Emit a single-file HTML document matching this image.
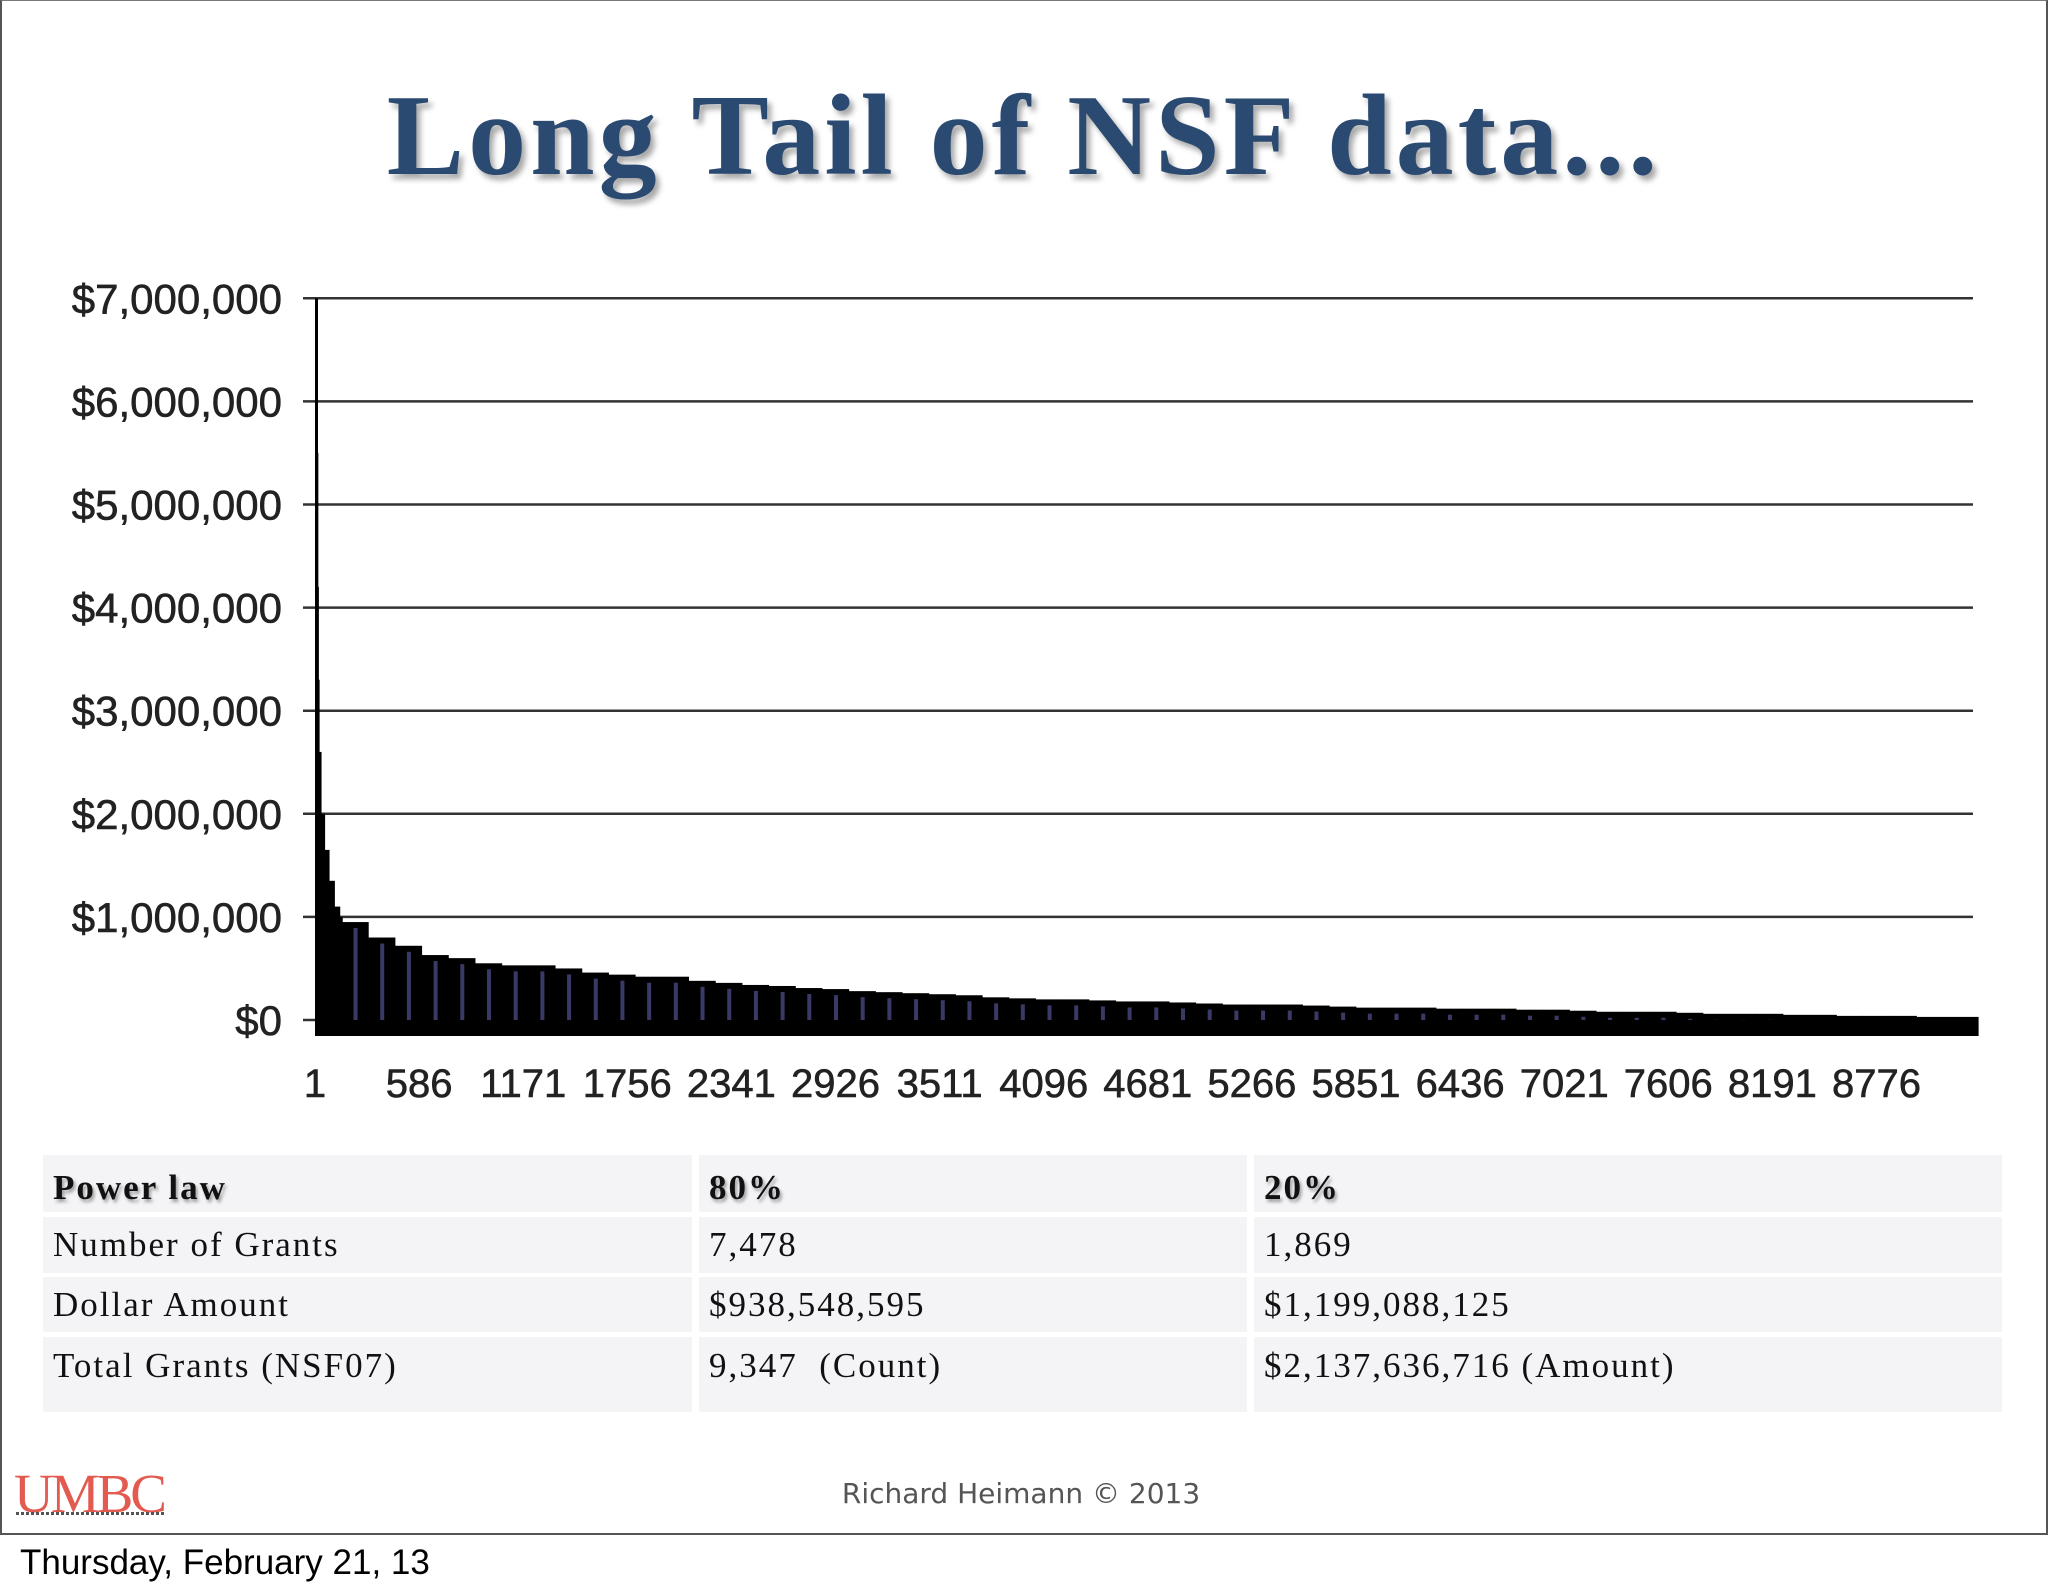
<!DOCTYPE html>
<html><head><meta charset="utf-8">
<style>
html,body{margin:0;padding:0;background:#fff;}
body{width:2048px;height:1593px;position:relative;overflow:hidden;font-family:"Liberation Sans",sans-serif;}
.frame{position:absolute;left:0;top:0;width:2044px;height:1532px;border:2px solid #555;border-top:1px solid #777;}
.title{position:absolute;left:0;width:2048px;top:70px;text-align:center;font-family:"Liberation Serif",serif;font-weight:bold;font-size:116px;color:#2b4a72;text-shadow:4px 5px 6px rgba(0,0,0,0.35);letter-spacing:4px;}
.cell{position:absolute;background:#f4f3f6;font-family:"Liberation Serif",serif;font-size:35px;letter-spacing:2px;color:#111;box-sizing:border-box;padding-left:10px;}
.hdr{font-weight:bold;text-shadow:2px 3px 3px rgba(0,0,0,0.35);}
.footer{position:absolute;left:0;width:2042px;top:1477px;text-align:center;font-size:28px;color:#555;font-family:"DejaVu Sans",sans-serif;}
.umbc{position:absolute;left:14px;top:1462px;font-family:"Liberation Serif",serif;font-size:55px;color:#e35b50;letter-spacing:-3px;}
.umbcsub{position:absolute;left:16px;top:1512px;width:148px;height:3px;background:repeating-linear-gradient(90deg,#555 0 3px,transparent 3px 5px);}
.date{position:absolute;left:20px;top:1543px;font-size:35px;color:#000;}
</style></head>
<body>
<div class="frame"></div>
<div class="title">Long Tail of NSF data...</div>
<svg id="chart" width="2048" height="1140" style="position:absolute;left:0;top:0"></svg>

<div class="cell hdr" style="left:43px;top:1155px;width:649px;height:57px;line-height:66px;">Power law</div>
<div class="cell hdr" style="left:699px;top:1155px;width:548px;height:57px;line-height:66px;">80%</div>
<div class="cell hdr" style="left:1254px;top:1155px;width:748px;height:57px;line-height:66px;">20%</div>

<div class="cell" style="left:43px;top:1217px;width:649px;height:56px;line-height:56px;">Number of Grants</div>
<div class="cell" style="left:699px;top:1217px;width:548px;height:56px;line-height:56px;">7,478</div>
<div class="cell" style="left:1254px;top:1217px;width:748px;height:56px;line-height:56px;">1,869</div>

<div class="cell" style="left:43px;top:1277px;width:649px;height:55px;line-height:55px;">Dollar Amount</div>
<div class="cell" style="left:699px;top:1277px;width:548px;height:55px;line-height:55px;">$938,548,595</div>
<div class="cell" style="left:1254px;top:1277px;width:748px;height:55px;line-height:55px;">$1,199,088,125</div>

<div class="cell" style="left:43px;top:1337px;width:649px;height:75px;line-height:58px;">Total Grants (NSF07)</div>
<div class="cell" style="left:699px;top:1337px;width:548px;height:75px;line-height:58px;">9,347&nbsp; (Count)</div>
<div class="cell" style="left:1254px;top:1337px;width:748px;height:75px;line-height:58px;">$2,137,636,716 (Amount)</div>

<div class="umbc">UMBC</div>
<div class="umbcsub"></div>
<div class="footer">Richard Heimann © 2013</div>
<div class="date">Thursday, February 21, 13</div>

<script>
const yTicks = [0,1000000,2000000,3000000,4000000,5000000,6000000,7000000];
const yTickLabels = ["$0","$1,000,000","$2,000,000","$3,000,000","$4,000,000","$5,000,000","$6,000,000","$7,000,000"];
const xTicks = [1,586,1171,1756,2341,2926,3511,4096,4681,5266,5851,6436,7021,7606,8191,8776];
const ranks = [1,3,6,10,20,35,55,80,110,140,150,300,450,600,750,900,1050,1200,1350,1500,1650,1800,1950,2100,2250,2400,2550,2700,2850,3000,3150,3300,3450,3600,3750,3900,4050,4200,4350,4500,4650,4800,4950,5100,5250,5400,5550,5700,5850,6000,6150,6300,6450,6600,6750,6900,7050,7200,7350,7500,7650,7800,7950,8100,8250,8400,8550,8700,8850,9000,9150,9300];
const amounts = [7000000,5500000,4200000,3300000,2600000,2000000,1650000,1350000,1100000,1000000,950000,800000,720000,630000,600000,550000,530000,530000,500000,460000,440000,420000,420000,380000,360000,340000,330000,310000,300000,280000,270000,260000,250000,240000,220000,210000,200000,200000,190000,180000,180000,170000,160000,150000,150000,150000,140000,130000,120000,120000,120000,110000,110000,110000,100000,100000,90000,80000,80000,80000,70000,60000,60000,60000,50000,50000,40000,40000,40000,30000,30000,30000];
const totalGrants = 9347;

const svg = document.getElementById('chart');
const NS = 'http://www.w3.org/2000/svg';
const X = r => 315 + (r-1)/585*104.1;
const Y = v => 1020 - v/1000000*103.1;
function mk(tag, attrs){const e=document.createElementNS(NS,tag);for(const k in attrs)e.setAttribute(k,attrs[k]);svg.appendChild(e);return e;}

yTicks.forEach((v,i)=>{
  const g = mk('line',{x1:303,x2:1973,y1:Y(v),y2:Y(v),stroke:'#333','stroke-width':2.5});
  
  
  const t = mk('text',{x:282,y:Y(v)+15,'text-anchor':'end','font-family':'Liberation Sans, sans-serif','font-size':42,fill:'#222',stroke:'#222','stroke-width':0.6});
  t.textContent = yTickLabels[i];
  
  
});
const band = mk('rect',{x:X(1),y:Y(0),width:X(totalGrants)-X(1),height:16,fill:'#000'});


ranks.forEach((r,i)=>{
  const end = i<ranks.length-1 ? ranks[i+1] : totalGrants;
  const x0 = X(r), x1 = X(end);
  const b = mk('rect',{x:x0,y:Y(amounts[i]),width:Math.max(x1-x0,2.5)+0.5,height:1036-Y(amounts[i]),fill:'#000'});
  
  
  if(x1-x0>8){
    const s = mk('rect',{x:x0+(x1-x0)*0.45,y:Y(amounts[i])+6,width:4,height:Math.max(Y(0)-Y(amounts[i])-6,0),fill:'#3a3a66'});
    
    
  }
});
xTicks.forEach(r=>{
  const t = mk('text',{x:X(r),y:1097,'text-anchor':'middle','font-family':'Liberation Sans, sans-serif','font-size':40,fill:'#222',stroke:'#222','stroke-width':0.6});
  t.textContent = r;
  
  
});
</script>
</body></html>
